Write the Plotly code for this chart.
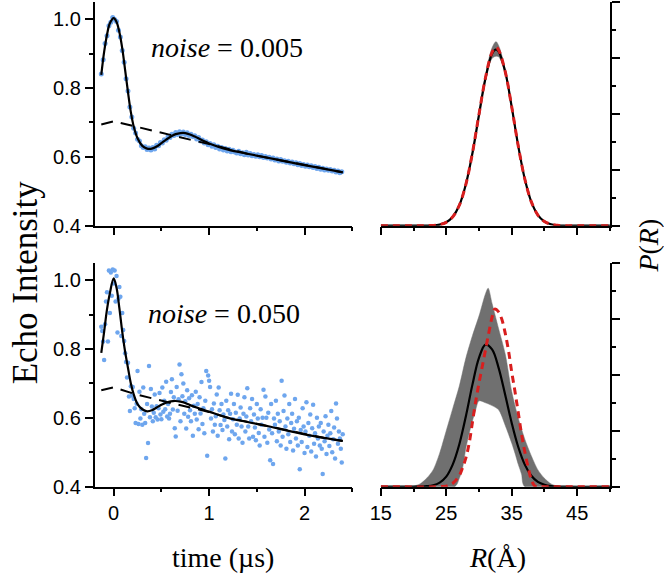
import numpy as np
import plotly.graph_objects as go

W, H = 664, 586

# ---------------- data ----------------
# DEER echo, noise = 0.005 (sampled every 0.02 us from -0.13 us)
echo_top = [
    0.841, 0.882, 0.929, 0.952, 0.981, 0.991, 1.005, 0.999, 0.993, 0.968,
    0.948, 0.909, 0.875, 0.827, 0.791, 0.745, 0.716, 0.683, 0.669, 0.651,
    0.646, 0.632, 0.627, 0.629, 0.621, 0.626, 0.620, 0.627, 0.623, 0.634,
    0.632, 0.642, 0.640, 0.650, 0.648, 0.659, 0.656, 0.666, 0.662, 0.671,
    0.665, 0.673, 0.667, 0.672, 0.665, 0.670, 0.662, 0.666, 0.659, 0.661,
    0.652, 0.656, 0.646, 0.649, 0.640, 0.644, 0.635, 0.639, 0.631, 0.635,
    0.627, 0.631, 0.623, 0.627, 0.620, 0.624, 0.617, 0.622, 0.615, 0.619,
    0.614, 0.611, 0.616, 0.609, 0.612, 0.606, 0.613, 0.605, 0.610, 0.603,
    0.607, 0.602, 0.606, 0.600, 0.604, 0.598, 0.601, 0.597, 0.599, 0.594,
    0.597, 0.591, 0.594, 0.588, 0.592, 0.587, 0.589, 0.584, 0.587, 0.582,
    0.585, 0.580, 0.583, 0.577, 0.581, 0.575, 0.578, 0.573, 0.576, 0.571,
    0.574, 0.569, 0.572, 0.566, 0.570, 0.564, 0.567, 0.562, 0.565, 0.561,
    0.563, 0.559, 0.561, 0.556, 0.559, 0.554, 0.557,
]
t_top_start, t_top_step = -0.13, 0.02

# DEER echo, noise = 0.050 (sampled every 0.01 us from -0.13 us)
echo_bot = [
    0.865, 0.852, 0.822, 0.768, 0.872, 0.938, 0.965, 0.822, 1.028, 0.905,
    1.022, 0.955, 1.031, 0.990, 1.028, 0.938, 1.012, 0.848, 0.946, 0.980,
    0.952, 0.838, 0.905, 0.855, 0.823, 0.788, 0.762, 0.717, 0.760, 0.662,
    0.620, 0.692, 0.665, 0.690, 0.655, 0.628, 0.585, 0.641, 0.736, 0.582,
    0.676, 0.598, 0.625, 0.580, 0.688, 0.612, 0.585, 0.483, 0.640, 0.527,
    0.751, 0.602, 0.684, 0.633, 0.590, 0.615, 0.668, 0.602, 0.634, 0.595,
    0.628, 0.672, 0.610, 0.596, 0.688, 0.618, 0.650, 0.625, 0.705, 0.604,
    0.640, 0.598, 0.612, 0.675, 0.712, 0.624, 0.660, 0.570, 0.546, 0.690,
    0.621, 0.654, 0.755, 0.590, 0.727, 0.663, 0.700, 0.612, 0.648, 0.569,
    0.680, 0.603, 0.657, 0.622, 0.590, 0.666, 0.548, 0.635, 0.612, 0.676,
    0.595, 0.640, 0.567, 0.660, 0.613, 0.704, 0.582, 0.628, 0.555, 0.650,
    0.736, 0.490, 0.723, 0.708, 0.690, 0.598, 0.625, 0.560, 0.642, 0.580,
    0.605, 0.668, 0.548, 0.688, 0.622, 0.579, 0.640, 0.565, 0.610, 0.594,
    0.482, 0.650, 0.575, 0.622, 0.538, 0.612, 0.670, 0.560, 0.596, 0.640,
    0.552, 0.615, 0.580, 0.667, 0.540, 0.598, 0.630, 0.575, 0.528, 0.612,
    0.660, 0.560, 0.604, 0.686, 0.575, 0.540, 0.628, 0.590, 0.655, 0.545,
    0.610, 0.572, 0.535, 0.640, 0.598, 0.556, 0.520, 0.625, 0.580, 0.600,
    0.682, 0.545, 0.662, 0.600, 0.528, 0.615, 0.566, 0.477, 0.640, 0.555,
    0.466, 0.598, 0.580, 0.650, 0.532, 0.612, 0.560, 0.590, 0.520, 0.708,
    0.545, 0.620, 0.665, 0.575, 0.510, 0.598, 0.552, 0.640, 0.530, 0.585,
    0.612, 0.505, 0.568, 0.655, 0.540, 0.590, 0.520, 0.600, 0.451, 0.565,
    0.530, 0.628, 0.575, 0.498, 0.560, 0.645, 0.515, 0.585, 0.548, 0.610,
    0.502, 0.570, 0.638, 0.525, 0.555, 0.488, 0.600, 0.540, 0.575, 0.520,
    0.585, 0.510, 0.437, 0.560, 0.532, 0.605, 0.495, 0.548, 0.580, 0.518,
    0.555, 0.620, 0.500, 0.538, 0.572, 0.482, 0.642, 0.598, 0.525, 0.560,
    0.540, 0.510, 0.470, 0.552,
]
t_bot_start, t_bot_step = -0.13, 0.01

# fitted traces and backgrounds
fit_t_top = [-0.13, -0.10, -0.07, -0.04, 0.00, 0.03, 0.06, 0.09, 0.12, 0.15, 0.18, 0.21,
             0.25, 0.30, 0.35, 0.40, 0.45, 0.50, 0.55, 0.60, 0.65, 0.70, 0.75, 0.80,
             0.85, 0.90, 0.95, 1.00, 1.10, 1.20, 1.40, 1.60, 1.80, 2.00, 2.20, 2.40]
fit_top = [0.838, 0.905, 0.955, 0.988, 1.003, 0.992, 0.962, 0.915, 0.852, 0.788, 0.730, 0.688,
           0.654, 0.632, 0.624, 0.624, 0.630, 0.640, 0.650, 0.659, 0.666, 0.669, 0.669, 0.665,
           0.659, 0.652, 0.645, 0.639, 0.629, 0.621, 0.609, 0.598, 0.587, 0.576, 0.566, 0.555]
bg_t_top = [-0.13, 0.0, 0.2, 0.4, 0.6, 0.8, 1.0, 1.2, 1.4, 1.6, 1.8, 2.0, 2.2, 2.4]
bg_top = [0.694, 0.703, 0.690, 0.676, 0.662, 0.650, 0.637, 0.622, 0.609, 0.598, 0.587, 0.576, 0.566, 0.555]

fit_t_bot = [-0.13, -0.10, -0.07, -0.04, 0.00, 0.03, 0.06, 0.09, 0.12, 0.15, 0.18, 0.21,
             0.25, 0.30, 0.35, 0.40, 0.45, 0.50, 0.55, 0.60, 0.65, 0.70, 0.75, 0.80,
             0.90, 1.00, 1.20, 1.40, 1.60, 1.80, 2.00, 2.20, 2.40]
fit_bot = [0.789, 0.850, 0.915, 0.962, 1.005, 0.978, 0.918, 0.850, 0.792, 0.745, 0.700, 0.668,
           0.640, 0.625, 0.619, 0.622, 0.630, 0.638, 0.644, 0.648, 0.649, 0.647, 0.643, 0.637,
           0.627, 0.618, 0.600, 0.588, 0.577, 0.564, 0.552, 0.542, 0.533]
bg_t_bot = [-0.13, 0.0, 0.2, 0.4, 0.6, 0.8, 1.0, 1.2, 1.4, 1.6, 1.8, 2.0, 2.2, 2.4]
bg_bot = [0.680, 0.689, 0.671, 0.656, 0.643, 0.630, 0.617, 0.600, 0.588, 0.577, 0.564, 0.552, 0.542, 0.533]

# distance distributions P(R)
R_top = [15, 20, 23, 24, 25, 26, 27, 28, 29, 30, 31, 32, 32.6, 33, 34, 35, 36, 37, 38, 39, 40, 41, 42, 43, 45, 50]
P_top_fit = [0, 0, 0.01, 0.04, 0.12, 0.32, 0.73, 1.48, 2.59, 3.96, 5.28, 6.15, 6.30, 6.23, 5.51, 4.25,
             2.85, 1.67, 0.85, 0.38, 0.15, 0.05, 0.015, 0, 0, 0]
P_top_true = [0, 0, 0.01, 0.04, 0.12, 0.32, 0.73, 1.48, 2.60, 3.98, 5.30, 6.20, 6.38, 6.28, 5.52, 4.25,
              2.85, 1.67, 0.85, 0.38, 0.15, 0.05, 0.015, 0, 0, 0]
P_top_hi = [0, 0, 0.01, 0.04, 0.12, 0.32, 0.73, 1.48, 2.62, 4.02, 5.38, 6.36, 6.58, 6.44, 5.60, 4.28,
            2.86, 1.67, 0.85, 0.38, 0.15, 0.05, 0.015, 0, 0, 0]
P_top_lo = [0, 0, 0.01, 0.04, 0.12, 0.32, 0.73, 1.48, 2.56, 3.90, 5.18, 5.98, 6.06, 6.04, 5.44, 4.22,
            2.84, 1.67, 0.85, 0.38, 0.15, 0.05, 0.015, 0, 0, 0]

R_bot = [15, 19, 20, 21, 22, 23, 24, 25, 26, 27, 28, 29, 30, 31, 32, 33, 34, 35, 36, 37, 38, 39,
         40, 41, 42, 43, 50]
P_bot_fit = [0, 0, 0.005, 0.01, 0.02, 0.05, 0.145, 0.36, 0.80, 1.52, 2.52, 3.65, 4.61, 5.08, 4.91,
             4.25, 3.29, 2.28, 1.42, 0.79, 0.39, 0.17, 0.07, 0.025, 0.008, 0, 0]
R_bot_hi = [15, 19, 20, 21, 22, 23, 24, 25, 26, 27, 28, 29, 30, 31, 31.4, 32, 33, 34, 35, 36, 37,
            38, 39, 40, 41, 42, 43, 50]
P_bot_hi = [0, 0, 0.02, 0.1, 0.3, 0.6, 1.2, 2.0, 2.8, 3.6, 4.6, 5.4, 6.1, 6.9, 7.1, 6.55, 5.65,
            4.75, 3.4, 2.45, 1.7, 1.1, 0.6, 0.3, 0.1, 0.02, 0, 0]
R_bot_lo = [15, 26.3, 27, 27.5, 28, 28.5, 29, 29.5, 30, 31, 32, 33, 34, 35, 35.5, 36, 36.5, 37, 50]
P_bot_lo = [0, 0, 0.3, 0.68, 1.38, 1.9, 2.35, 2.75, 3.07, 3.0, 2.9, 2.75, 2.2, 1.56, 1.2, 0.8,
            0.45, 0, 0]
R_bot_true = [15, 24, 25, 26, 27, 27.5, 28, 28.5, 29, 29.5, 30, 30.5, 31, 31.5, 32, 32.4, 33, 33.5,
              34, 34.5, 35, 35.5, 36, 36.5, 37, 37.5, 38, 38.5, 39, 40, 50]
P_bot_true = [0, 0, 0.02, 0.12, 0.4, 0.68, 1.03, 1.55, 2.3, 3.05, 3.7, 4.3, 4.9, 5.5, 6.06, 6.35,
              6.25, 5.98, 5.5, 4.88, 4.1, 3.4, 2.65, 1.88, 1.25, 0.7, 0.25, 0.03, 0, 0, 0]

# ---------------- style ----------------
BLUE = "#6ea6ee"
GREY = "rgb(112,112,112)"
RED = "#d81e1e"
SERIF = "Liberation Serif"
SANS = "Liberation Sans"


def px_x(p):
    return p / W


def px_y(p):
    return 1 - p / H


fig = go.Figure()

t_top = [round(t_top_start + i * t_top_step, 3) for i in range(len(echo_top))]
t_bot = [round(t_bot_start + i * t_bot_step, 3) for i in range(len(echo_bot))]

# top-left
fig.add_trace(go.Scatter(x=t_top, y=echo_top, mode="markers", xaxis="x", yaxis="y",
                         marker=dict(color=BLUE, size=5), showlegend=False))
fig.add_trace(go.Scatter(x=bg_t_top, y=bg_top, mode="lines", xaxis="x", yaxis="y",
                         line=dict(color="black", width=2, dash="12px,8px"), showlegend=False))
fig.add_trace(go.Scatter(x=fit_t_top, y=fit_top, mode="lines", xaxis="x", yaxis="y",
                         line=dict(color="black", width=2.2, shape="spline"), showlegend=False))

# bottom-left
fig.add_trace(go.Scatter(x=t_bot, y=echo_bot, mode="markers", xaxis="x3", yaxis="y3",
                         marker=dict(color=BLUE, size=4.5), showlegend=False))
fig.add_trace(go.Scatter(x=bg_t_bot, y=bg_bot, mode="lines", xaxis="x3", yaxis="y3",
                         line=dict(color="black", width=2, dash="12px,8px"), showlegend=False))
fig.add_trace(go.Scatter(x=fit_t_bot, y=fit_bot, mode="lines", xaxis="x3", yaxis="y3",
                         line=dict(color="black", width=2.2, shape="spline"), showlegend=False))

# top-right
fig.add_trace(go.Scatter(x=list(R_top) + list(R_top)[::-1], y=list(P_top_hi) + list(P_top_lo)[::-1],
                         mode="lines", fill="toself", fillcolor=GREY, xaxis="x2", yaxis="y2",
                         line=dict(color=GREY, width=0.5, shape="spline"), showlegend=False))
fig.add_trace(go.Scatter(x=R_top, y=P_top_fit, mode="lines", xaxis="x2", yaxis="y2",
                         line=dict(color="black", width=2.2, shape="spline"), showlegend=False))
fig.add_trace(go.Scatter(x=R_top, y=P_top_true, mode="lines", xaxis="x2", yaxis="y2",
                         line=dict(color=RED, width=3, dash="7px,5px", shape="spline"), showlegend=False))

# bottom-right
fig.add_trace(go.Scatter(x=list(R_bot_hi) + list(R_bot_lo)[::-1], y=list(P_bot_hi) + list(P_bot_lo)[::-1],
                         mode="lines", fill="toself", fillcolor=GREY, xaxis="x4", yaxis="y4",
                         line=dict(color=GREY, width=0.5, shape="spline", smoothing=0.8),
                         showlegend=False))
fig.add_trace(go.Scatter(x=R_bot, y=P_bot_fit, mode="lines", xaxis="x4", yaxis="y4",
                         line=dict(color="black", width=2.2, shape="spline"), showlegend=False))
fig.add_trace(go.Scatter(x=R_bot_true, y=P_bot_true, mode="lines", xaxis="x4", yaxis="y4",
                         line=dict(color=RED, width=3, dash="7px,5px", shape="spline"), showlegend=False))

# ---------------- axes ----------------
LX = [px_x(85), px_x(347)]
RX = [px_x(376), px_x(609)]
TY = [px_y(230), px_y(2)]
BY = [px_y(496), px_y(268)]

tickfont = dict(family=SANS, size=20, color="black")

common = dict(showline=True, linecolor="black", linewidth=1.6, showgrid=False, zeroline=False,
              ticks="outside", ticklen=8, tickwidth=1.6, tickcolor="black", tickfont=tickfont)


def t_axis(domain, anchor, labels):
    return dict(common, domain=domain, anchor=anchor, range=[-0.2, 2.5], tick0=0, dtick=1,
                showticklabels=labels,
                minor=dict(ticks="outside", ticklen=4, tickwidth=1.6, tickcolor="black", dtick=0.5, tick0=0))


def v_axis(domain, anchor):
    return dict(common, domain=domain, anchor=anchor, range=[0.4, 1.05], tick0=0.4, dtick=0.2,
                tickformat=".1f",
                minor=dict(ticks="outside", ticklen=4, tickwidth=1.6, tickcolor="black", dtick=0.1, tick0=0.4))


def r_axis(domain, anchor, labels):
    return dict(common, domain=domain, anchor=anchor, range=[15, 50], tick0=15, dtick=10,
                showticklabels=labels,
                minor=dict(ticks="outside", ticklen=4, tickwidth=1.6, tickcolor="black", dtick=5, tick0=15))


def p_axis(domain, anchor):
    return dict(common, domain=domain, anchor=anchor, range=[0, 8], tick0=0, dtick=2, side="right",
                showticklabels=False,
                minor=dict(ticks="outside", ticklen=4, tickwidth=1.6, tickcolor="black", dtick=1, tick0=0))


fig.update_layout(
    width=W, height=H,
    margin=dict(l=0, r=0, t=0, b=0),
    paper_bgcolor="white", plot_bgcolor="white",
    xaxis=t_axis(LX, "y", False),
    yaxis=v_axis(TY, "x"),
    xaxis2=r_axis(RX, "y2", False),
    yaxis2=p_axis(TY, "x2"),
    xaxis3=t_axis(LX, "y3", True),
    yaxis3=v_axis(BY, "x3"),
    xaxis4=r_axis(RX, "y4", True),
    yaxis4=p_axis(BY, "x4"),
)

annotations = [
    dict(text="<i>noise</i> = 0.005", x=px_x(220), y=px_y(48), size=28),
    dict(text="<i>noise</i> = 0.050", x=px_x(217), y=px_y(320), size=28),
    dict(text="time (µs)", x=px_x(216), y=px_y(568), size=28),
    dict(text="<i>R</i>(Å)", x=px_x(495), y=px_y(568), size=28),
    dict(text="Echo Intensity", x=px_x(15), y=px_y(288), textangle=-90, size=35),
    dict(text="<i>P</i>(<i>R</i>)", x=px_x(648), y=px_y(250), textangle=-90, size=28),
]
for a in annotations:
    sz = a.pop("size")
    a.update(xref="paper", yref="paper", showarrow=False,
             font=dict(family=SERIF, size=sz, color="black"),
             xanchor="center", yanchor="middle")
fig.update_layout(annotations=annotations)

fig.write_html(
    "out.html",
    config={"displayModeBar": False},
    post_script="document.body.style.margin='0';document.body.style.overflow='hidden';",
)
